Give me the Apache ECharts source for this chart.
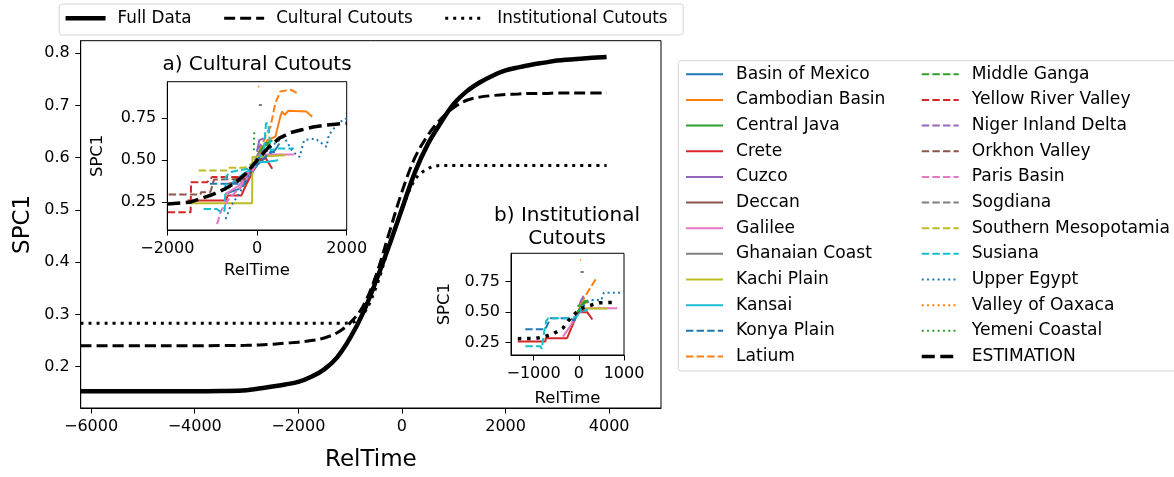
<!DOCTYPE html>
<html><head><meta charset="utf-8">
<script src="https://cdn.jsdelivr.net/npm/echarts@6/dist/echarts.min.js"></script>
<style>html,body{margin:0;padding:0;background:#fff}#c{width:1174px;height:477px}</style>
</head><body><div id="c"></div><script>
// ---------- main chart data ----------
const mainX = [-6200,-5000,-4000,-3500,-3000,-2500,-2250,-2000,-1750,-1500,-1250,-1000,-750,-500,-250,0,250,500,750,1000,1250,1500,1750,2000,2250,2500,2750,3000,3500,3950];
const fullData = [0.153,0.153,0.153,0.1535,0.155,0.162,0.166,0.171,0.181,0.195,0.218,0.255,0.303,0.364,0.431,0.502,0.572,0.626,0.667,0.703,0.727,0.744,0.757,0.767,0.773,0.778,0.782,0.786,0.790,0.793];
const culturalCutouts = [0.240,0.240,0.2402,0.2405,0.241,0.243,0.245,0.247,0.250,0.255,0.265,0.284,0.316,0.375,0.455,0.535,0.600,0.643,0.674,0.696,0.710,0.716,0.719,0.721,0.722,0.723,0.723,0.724,0.724,0.724];
const institutionalCutouts = [0.283,0.283,0.283,0.283,0.283,0.283,0.283,0.283,0.283,0.283,0.283,0.284,0.300,0.352,0.430,0.500,0.558,0.579,0.585,0.585,0.585,0.585,0.585,0.585,0.585,0.585,0.585,0.585,0.585,0.585];
const mainXTicks = [-6000,-4000,-2000,0,2000,4000];
const mainYTicks = [0.2,0.3,0.4,0.5,0.6,0.7,0.8];
const insetAXTicks = [-2000,0,2000];
const insetBXTicks = [-1000,0,1000];
const insetYTicks = [0.25,0.5,0.75];

// ---------- region names ----------
const regionNames = ['Basin of Mexico','Cambodian Basin','Central Java','Crete','Cuzco','Deccan','Galilee','Ghanaian Coast','Kachi Plain','Kansai','Konya Plain','Latium','Middle Ganga','Yellow River Valley','Niger Inland Delta','Orkhon Valley','Paris Basin','Sogdiana','Southern Mesopotamia','Susiana','Upper Egypt','Valley of Oaxaca','Yemeni Coastal','ESTIMATION'];

// ---------- inset a) Cultural Cutouts ----------
const aBasinOfMexico = [[-700,0.30],[-400,0.33],[-200,0.38],[-100,0.43],[0,0.47],[200,0.52],[400,0.56],[500,0.60]];
const aCambodianBasin = [[0,0.50],[150,0.58],[230,0.62],[410,0.64],[520,0.76],[560,0.79],[620,0.77],[700,0.795],[1100,0.79],[1230,0.76]];
const aCentralJava = [[0,0.52],[100,0.58],[300,0.60]];
const aCrete = [[-1550,0.26],[-700,0.26],[-650,0.29],[-350,0.29],[-250,0.35],[-100,0.43],[0,0.50],[100,0.51],[200,0.51],[340,0.45]];
const aCuzco = [[0,0.55],[50,0.62],[150,0.63]];
const aDeccan = [[-650,0.36],[-300,0.38],[-150,0.42],[0,0.48],[100,0.50]];
const aGalilee = [[-700,0.30],[-400,0.35],[-200,0.42],[0,0.50],[50,0.535],[820,0.535]];
const aGhanaianCoast = [[-50,0.50],[50,0.55],[150,0.56]];
const aKachiPlain = [[-1530,0.245],[-110,0.245],[-100,0.52],[630,0.53]];
const aKansai = [[-650,0.33],[-500,0.38],[-300,0.42],[-100,0.45],[0,0.49],[200,0.49],[470,0.50]];
const aKonyaPlain = [[-1050,0.36],[-300,0.36],[-200,0.40],[-100,0.44],[0,0.48],[100,0.50],[300,0.55],[400,0.55]];
const aLatium = [[50,0.55],[200,0.65],[300,0.70],[410,0.84],[520,0.91],[750,0.92],[900,0.90]];
const aMiddleGanga = [[50,0.55],[200,0.60],[350,0.62]];
const aYellowRiver = [[-1990,0.19],[-1480,0.19],[-1470,0.37],[-1110,0.37],[-1000,0.40],[-300,0.40],[-150,0.45],[0,0.49]];
const aNigerDelta = [[0,0.56],[100,0.60],[200,0.60]];
const aOrkhonValley = [[-1970,0.297],[-1260,0.297],[-1250,0.31],[-1040,0.31],[-960,0.385],[-220,0.39],[-100,0.45],[0,0.50]];
const aParisBasin = [[-890,0.12],[-800,0.20],[-600,0.28],[-400,0.33],[-200,0.40],[0,0.48]];
const aSogdiana = [[40,0.83],[110,0.83]];
const aSouthernMeso = [[-1300,0.44],[-660,0.44],[-640,0.455],[-290,0.455],[-100,0.48],[0,0.50]];
const aSusiana = [[-1190,0.21],[-900,0.21],[-800,0.19],[-720,0.20],[-700,0.40],[-600,0.43],[-200,0.45],[0,0.50],[150,0.55],[200,0.72],[250,0.72],[300,0.56],[450,0.57],[820,0.57]];
const aUpperEgypt = [[-700,0.15],[-600,0.22],[-400,0.30],[-200,0.40],[0,0.50],[200,0.55],[400,0.60],[600,0.64],[800,0.55],[950,0.52],[1050,0.62],[1300,0.63],[1450,0.60],[1550,0.58],[1600,0.65],[1800,0.72],[2000,0.75]];
const aOaxaca = [[25,0.94],[50,0.94]];
const aYemeni = [[-70,0.56],[-60,0.68]];
const aEstimation = [[-2000,0.24],[-1500,0.25],[-1000,0.295],[-750,0.325],[-500,0.362],[-250,0.42],[0,0.50],[250,0.575],[500,0.632],[750,0.665],[1000,0.682],[1250,0.698],[1500,0.708],[1750,0.715],[2000,0.72]];

// ---------- inset b) Institutional Cutouts ----------
const bBasinOfMexico = [[-150,0.42],[0,0.50],[150,0.53]];
const bCambodianBasin = [[0,0.52],[80,0.58],[200,0.58]];
const bCentralJava = [[-30,0.50],[80,0.56],[200,0.60]];
const bCrete = [[-1350,0.26],[-740,0.26],[-730,0.287],[-260,0.287],[-40,0.48],[-20,0.50],[185,0.50],[300,0.44]];
const bCuzco = [[0,0.55],[60,0.60],[120,0.62]];
const bGalilee = [[-350,0.30],[-200,0.38],[0,0.50],[185,0.533],[850,0.533]];
const bKachiPlain = [[0,0.50],[37,0.53],[630,0.53]];
const bKansai = [[-100,0.45],[0,0.50],[200,0.52]];
const bKonyaPlain = [[-1185,0.36],[-740,0.36],[-630,0.45],[-185,0.45],[-100,0.43],[0,0.50],[100,0.58]];
const bLatium = [[37,0.57],[407,0.79]];
const bMiddleGanga = [[50,0.55],[150,0.60]];
const bYellowRiver = [[-100,0.45],[0,0.50],[100,0.52]];
const bNigerDelta = [[30,0.58],[100,0.63],[140,0.65]];
const bSogdiana = [[37,0.83],[110,0.83]];
const bSusiana = [[-1180,0.22],[-850,0.22],[-820,0.20],[-790,0.20],[-770,0.33],[-720,0.43],[-680,0.45],[-400,0.45],[-200,0.45],[-50,0.46],[50,0.52],[150,0.58]];
const bUpperEgypt = [[100,0.55],[250,0.60],[500,0.60],[555,0.66],[925,0.66]];
const bOaxaca = [[30,0.93],[50,0.93]];
const bYemeni = [[-20,0.50],[0,0.58]];
const bEstimation = [[-1350,0.283],[-950,0.285],[-750,0.30],[-550,0.325],[-350,0.37],[-230,0.43],[-110,0.48],[50,0.53],[250,0.555],[450,0.578],[850,0.58]];

const insetAData = [aBasinOfMexico,aCambodianBasin,aCentralJava,aCrete,aCuzco,aDeccan,aGalilee,aGhanaianCoast,aKachiPlain,aKansai,aKonyaPlain,aLatium,aMiddleGanga,aYellowRiver,aNigerDelta,aOrkhonValley,aParisBasin,aSogdiana,aSouthernMeso,aSusiana,aUpperEgypt,aOaxaca,aYemeni,aEstimation];
const insetBData = [bBasinOfMexico,bCambodianBasin,bCentralJava,bCrete,bCuzco,null,bGalilee,null,bKachiPlain,bKansai,bKonyaPlain,bLatium,bMiddleGanga,bYellowRiver,bNigerDelta,null,null,bSogdiana,null,bSusiana,bUpperEgypt,bOaxaca,bYemeni,bEstimation];

// ---------- styles ----------
const tab10 = ['#1f77b4','#ff7f0e','#2ca02c','#d62728','#9467bd','#8c564b','#e377c2','#7f7f7f','#bcbd22','#17becf'];
const FONT = 'DejaVu Sans';
function regionStyle(i) {
  if (i === 23) return {color:'#000', width:3.5, type:[13,5.5]};
  const color = tab10[i % 10];
  if (i < 10) return {color, width:2, type:'solid'};
  if (i < 20) return {color, width:2, type:[7.4,3.2]};
  return {color, width:2, type:[2,3.3]};
}

const series = [];
const mainCommon = {type:'line', xAxisIndex:0, yAxisIndex:0, symbol:'none', smooth:0.35, z:2};
series.push({...mainCommon, name:'Full Data', data: mainX.map((x,i)=>[x, fullData[i]]), lineStyle:{color:'#000', width:4.5, type:'solid'}, itemStyle:{color:'#000'}});
series.push({...mainCommon, name:'Cultural Cutouts', data: mainX.map((x,i)=>[x, culturalCutouts[i]]), lineStyle:{color:'#000', width:3, type:[11,5]}, itemStyle:{color:'#000'}});
series.push({...mainCommon, name:'Institutional Cutouts', data: mainX.map((x,i)=>[x, institutionalCutouts[i]]), lineStyle:{color:'#000', width:3, type:[3,5]}, itemStyle:{color:'#000'}});
insetAData.forEach((d,i)=>{
  const ls = regionStyle(i);
  series.push({name: regionNames[i], type:'line', xAxisIndex:1, yAxisIndex:1, data:d, symbol:'none', lineStyle:ls, itemStyle:{color:ls.color}, z: i===23 ? 8 : 6, clip:true});
});
insetBData.forEach((d,i)=>{
  if (!d) return;
  let ls = regionStyle(i);
  if (i === 23) ls = {color:'#000', width:3.5, type:[3.5,5.8]};
  series.push({name: regionNames[i], type:'line', xAxisIndex:2, yAxisIndex:2, data:d, symbol:'none', lineStyle:ls, itemStyle:{color:ls.color}, z: i===23 ? 8 : 6, clip:true});
});

const txt = {color:'#000', fontFamily:FONT};
function axisCfg(gi, min, max, ticks, fs, name, nameFs, nameGap, fmt) {
  return {type:'value', gridIndex:gi, min, max, z: gi===0 ? 0 : 7,
    axisLine:{show:true, onZero:false, lineStyle:{color:'#000', width:1}},
    axisTick:{show:true, customValues:ticks, length:5.5, lineStyle:{color:'#000'}},
    axisLabel:{show:true, customValues:ticks, margin:11, fontSize:fs, ...txt, formatter: fmt},
    splitLine:{show:false},
    name, nameLocation:'middle', nameGap, nameTextStyle:{fontSize:nameFs, ...txt}};
}
const minus = v => String(v).replace('-', '\u2212');
const fix1 = v => v.toFixed(1);
const fix2 = v => v.toFixed(2);

const leftNames = regionNames.slice(0,12);
const rightNames = regionNames.slice(12);
const legendText = {fontSize:17.1, lineHeight:18, padding:[0,0,0,8], ...txt};
const noSymbol = {opacity:0};
const inheritLine = {width:'inherit', type:'inherit'};

const option = {
  animation:false,
  backgroundColor:'#fff',
  grid:[
    {left:80.7, top:40.7, width:580.3, height:376.6, show:true, borderColor:'#000', borderWidth:1, backgroundColor:'rgba(0,0,0,0)'},
    {left:167.3, top:81.7, width:179.4, height:148.3, show:true, borderColor:'#000', borderWidth:1, backgroundColor:'#fff', z:4},
    {left:511, top:253.3, width:113, height:101.7, show:true, borderColor:'#000', borderWidth:1, backgroundColor:'#fff', z:4}
  ],
  xAxis:[
    axisCfg(0, -6200, 5000, mainXTicks, 16, 'RelTime', 23, 41, minus),
    axisCfg(1, -2000, 2000, insetAXTicks, 16, 'RelTime', 16.5, 32.5, minus),
    axisCfg(2, -1500, 1000, insetBXTicks, 16, 'RelTime', 16.5, 35, minus)
  ],
  yAxis:[
    axisCfg(0, 0.121, 0.824, mainYTicks, 16, 'SPC1', 23, 46, fix1),
    axisCfg(1, 0.085, 0.968, insetYTicks, 16, 'SPC1', 16.5, 61, fix2),
    axisCfg(2, 0.149, 0.983, insetYTicks, 16, 'SPC1', 16.5, 57.5, fix2)
  ],
  legend:[
    {data:['Full Data','Cultural Cutouts','Institutional Cutouts'], orient:'horizontal', left:63.3, top:9.3, padding:0, itemWidth:40, itemHeight:14, itemGap:31, selectedMode:false, itemStyle:noSymbol, lineStyle:inheritLine, textStyle:{fontSize:16.8, lineHeight:18, padding:[0,0,0,7], ...txt}},
    {data:leftNames, orient:'vertical', left:685, top:65.3, padding:0, itemWidth:37, itemHeight:14, itemGap:7.65, selectedMode:false, itemStyle:noSymbol, lineStyle:inheritLine, textStyle:legendText},
    {data:rightNames, orient:'vertical', left:920, top:65.3, padding:0, itemWidth:37, itemHeight:14, itemGap:7.65, selectedMode:false, itemStyle:noSymbol, lineStyle:inheritLine, textStyle:legendText}
  ],
  graphic:[
    {type:'rect', shape:{x:59.3, y:4, width:624, height:31, r:3}, style:{fill:'none', stroke:'#d4d4d4', lineWidth:1}, z:-1},
    {type:'rect', shape:{x:678.3, y:60.7, width:600, height:310.3, r:3}, style:{fill:'none', stroke:'#d4d4d4', lineWidth:1}, z:-1},
    {type:'text', style:{x:257, y:65, text:'a) Cultural Cutouts', textAlign:'center', textVerticalAlign:'middle', fontSize:20, fontFamily:FONT, fill:'#000'}},
    {type:'text', style:{x:567, y:227, text:'b) Institutional\nCutouts', textAlign:'center', textVerticalAlign:'middle', fontSize:20, lineHeight:23, fontFamily:FONT, fill:'#000'}}
  ],
  series
};
const chart = echarts.init(document.getElementById('c'), null, {renderer:'canvas'});
chart.setOption(option);
</script></body></html>
